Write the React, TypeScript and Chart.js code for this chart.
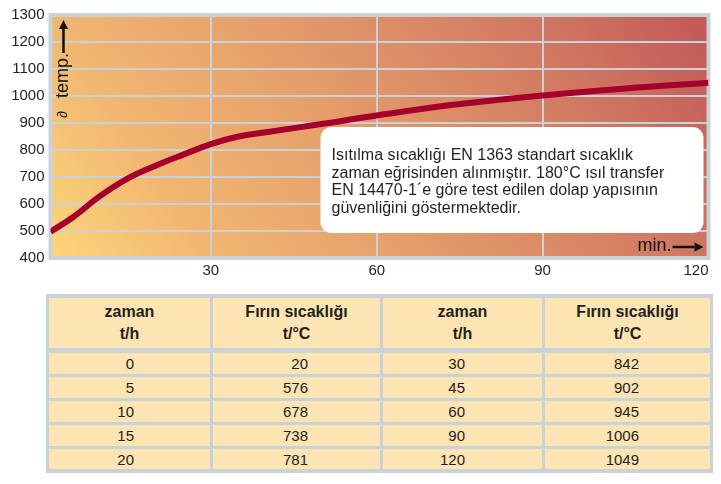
import React, { useEffect, useRef } from "react";
import { Chart, registerables } from "chart.js";

Chart.register(...registerables);

// ---- data ----
const curveMinutes = [1, 5, 10, 15, 20, 25, 30, 35, 40, 50, 60, 75, 90, 105, 120];
const curveTemps = [497, 550, 630, 695, 742, 783, 822, 850, 866, 896, 928, 970, 1002, 1028, 1049];
const xTickValues = [30, 60, 90, 120];
const yMin = 400;
const yMax = 1300;
const yStep = 100;

const noteLines = [
  "Isıtılma sıcaklığı EN 1363 standart sıcaklık",
  "zaman eğrisinden alınmıştır. 180°C ısıl transfer",
  "EN 14470-1´e göre test edilen dolap yapısının",
  "güvenliğini göstermektedir.",
];
const yAxisLabel = "temp.";
const yAxisSymbol = "∂";
const xAxisLabel = "min.";

const headerTime = ["zaman", "t/h"];
const headerTemp = ["Fırın sıcaklığı", "t/°C"];
const tableTimes1 = [0, 5, 10, 15, 20];
const tableTemps1 = [20, 576, 678, 738, 781];
const tableTimes2 = [30, 45, 60, 90, 120];
const tableTemps2 = [842, 902, 945, 1006, 1049];

// ---- styles ----
const GRID = "#c9d2d8";
const CELL = "#fde4b3";
const TEXT = "#231f20";
const FONT = "'Liberation Sans', Arial, sans-serif";

const CANVAS_W = 721;
const CANVAS_H = 290;

function arrow(ctx: CanvasRenderingContext2D, x1: number, y1: number, x2: number, y2: number) {
  const ang = Math.atan2(y2 - y1, x2 - x1);
  const head = 9;
  const hw = 4.5;
  const bx = x2 - Math.cos(ang) * head;
  const by = y2 - Math.sin(ang) * head;
  ctx.beginPath();
  ctx.moveTo(x1, y1);
  ctx.lineTo(bx, by);
  ctx.lineWidth = 2.5;
  ctx.strokeStyle = "#111";
  ctx.stroke();
  ctx.beginPath();
  ctx.moveTo(x2, y2);
  ctx.lineTo(bx - Math.sin(ang) * hw, by + Math.cos(ang) * hw);
  ctx.lineTo(bx + Math.sin(ang) * hw, by - Math.cos(ang) * hw);
  ctx.closePath();
  ctx.fillStyle = "#111";
  ctx.fill();
}

const decorPlugin = {
  id: "decor",
  beforeDraw(chart: any) {
    const { ctx, chartArea: a } = chart;
    const w = a.right - a.left;
    const h = a.bottom - a.top;
    // gradient direction: bottom-left (yellow) towards top-right (red)
    const len = Math.hypot(243, 161);
    const ux = 243 / len;
    const uy = -161 / len;
    const proj = w * ux - h * uy;
    const g = ctx.createLinearGradient(a.left, a.bottom, a.left + ux * proj, a.bottom + uy * proj);
    g.addColorStop(0, "#fdd67b");
    g.addColorStop(0.2, "#f1b671");
    g.addColorStop(0.4, "#e7a36c");
    g.addColorStop(0.6, "#dc8d67");
    g.addColorStop(0.8, "#cf7561");
    g.addColorStop(1, "#c05858");
    ctx.save();
    ctx.fillStyle = g;
    ctx.fillRect(a.left, a.top, w, h);
    ctx.restore();
  },
  beforeDatasetsDraw(chart: any) {
    const { ctx, chartArea: a } = chart;
    ctx.save();
    ctx.strokeStyle = GRID;
    ctx.lineWidth = 4;
    ctx.strokeRect(a.left, a.top, a.right - a.left, a.bottom - a.top);
    ctx.restore();
  },
  afterDatasetsDraw(chart: any) {
    const { ctx, chartArea: a, scales } = chart;
    ctx.save();
    // x tick labels
    const xs = scales.x;
    ctx.fillStyle = TEXT;
    ctx.font = `15px ${FONT}`;
    ctx.textBaseline = "middle";
    xs.ticks.forEach((t: any, i: number) => {
      const px = xs.getPixelForValue(t.value);
      const last = i === xs.ticks.length - 1;
      ctx.textAlign = last ? "right" : "center";
      ctx.fillText(String(t.value), px, a.bottom + 13);
    });

    // note box
    const bx = a.left + 270;
    const by = a.top + 112;
    const bw = 383;
    const bh = 106;
    ctx.fillStyle = "#ffffff";
    ctx.beginPath();
    ctx.roundRect(bx, by, bw, bh, 11);
    ctx.fill();
    ctx.fillStyle = TEXT;
    ctx.font = `16px ${FONT}`;
    ctx.textAlign = "left";
    ctx.textBaseline = "alphabetic";
    noteLines.forEach((line, i) => {
      ctx.fillText(line, bx + 11, by + 33 + i * 17.7);
    });

    // y axis label (rotated)
    ctx.save();
    ctx.translate(a.left + 13, a.top + 83);
    ctx.rotate(-Math.PI / 2);
    ctx.font = `18px ${FONT}`;
    ctx.textAlign = "left";
    ctx.textBaseline = "middle";
    ctx.fillStyle = "#111";
    ctx.fillText(yAxisLabel, 0, 0);
    ctx.font = `italic 14px ${FONT}`;
    ctx.fillText(yAxisSymbol, -20, 0);
    ctx.restore();
    arrow(ctx, a.left + 13, a.top + 38, a.left + 13, a.top + 5);

    // x axis label
    ctx.font = `18px ${FONT}`;
    ctx.textAlign = "left";
    ctx.textBaseline = "middle";
    ctx.fillStyle = "#111";
    ctx.fillText(xAxisLabel, a.right - 71, a.bottom - 12);
    arrow(ctx, a.right - 36, a.bottom - 11, a.right - 5, a.bottom - 11);
    ctx.restore();
  },
};

function ChartView() {
  const ref = useRef<HTMLCanvasElement>(null);
  useEffect(() => {
    if (!ref.current) return;
    const chart = new Chart(ref.current, {
      type: "line",
      data: {
        datasets: [
          {
            data: curveMinutes.map((m, i) => ({ x: m, y: curveTemps[i] })),
            borderColor: "#a6002c",
            borderWidth: 6,
            pointRadius: 0,
            tension: 0.4,
            fill: false,
          },
        ],
      },
      options: {
        responsive: false,
        animation: false,
        devicePixelRatio: 1,
        layout: { padding: { left: 0, top: 15, right: 12.5, bottom: 0 } },
        plugins: { legend: { display: false }, tooltip: { enabled: false } },
        scales: {
          x: {
            type: "linear",
            min: 1,
            max: 120,
            afterBuildTicks: (s: any) => {
              s.ticks = xTickValues.map((v) => ({ value: v }));
            },
            afterFit: (s: any) => {
              s.height = CANVAS_H - 258;
            },
            grid: { color: GRID, lineWidth: 2, drawTicks: false },
            border: { display: false },
            ticks: { display: false },
          },
          y: {
            min: yMin,
            max: yMax,
            afterFit: (s: any) => {
              s.width = 50.5;
            },
            grid: { color: GRID, lineWidth: 2, drawTicks: false },
            border: { display: false },
            ticks: {
              stepSize: yStep,
              padding: 6,
              color: TEXT,
              font: { family: FONT, size: 15 },
              callback: (v: any) => String(v),
            },
          },
        },
      },
      plugins: [decorPlugin],
    } as any);
    return () => chart.destroy();
  }, []);
  return <canvas ref={ref} width={CANVAS_W} height={CANVAS_H} style={{ display: "block" }} />;
}

const colX = [
  [49, 210],
  [213, 380],
  [383, 542],
  [545, 710],
];
const bodyRows = [
  [353, 374],
  [377, 398],
  [401, 422],
  [425, 446],
  [449, 469],
];
const padRight = [76, 72, 77, 71];

function Table() {
  const cells: React.ReactNode[] = [];
  const headers = [headerTime, headerTemp, headerTime, headerTemp];
  headers.forEach((h, c) => {
    cells.push(
      <div
        key={`h${c}`}
        style={{
          position: "absolute",
          left: colX[c][0],
          top: 298,
          width: colX[c][1] - colX[c][0],
          height: 50,
          background: CELL,
          display: "flex",
          flexDirection: "column",
          justifyContent: "center",
          alignItems: "center",
          fontWeight: "bold",
          fontSize: 16,
          lineHeight: "22px",
          color: TEXT,
        }}
      >
        <div>{h[0]}</div>
        <div>{h[1]}</div>
      </div>
    );
  });
  const cols = [tableTimes1, tableTemps1, tableTimes2, tableTemps2];
  bodyRows.forEach((r, ri) => {
    cols.forEach((col, c) => {
      cells.push(
        <div
          key={`b${ri}-${c}`}
          style={{
            position: "absolute",
            left: colX[c][0],
            top: r[0],
            width: colX[c][1] - colX[c][0] - padRight[c],
            paddingRight: padRight[c],
            height: r[1] - r[0],
            background: CELL,
            display: "flex",
            alignItems: "center",
            justifyContent: "flex-end",
            fontSize: 15,
            color: TEXT,
          }}
        >
          {col[ri]}
        </div>
      );
    });
  });
  return (
    <>
      <div style={{ position: "absolute", left: 46, top: 294, width: 667, height: 179, background: GRID }} />
      {cells}
    </>
  );
}

export default function App() {
  return (
    <div
      style={{
        position: "absolute",
        left: 0,
        top: 0,
        width: 721,
        height: 484,
        background: "#fff",
        fontFamily: FONT,
      }}
    >
      <ChartView />
      <Table />
    </div>
  );
}
